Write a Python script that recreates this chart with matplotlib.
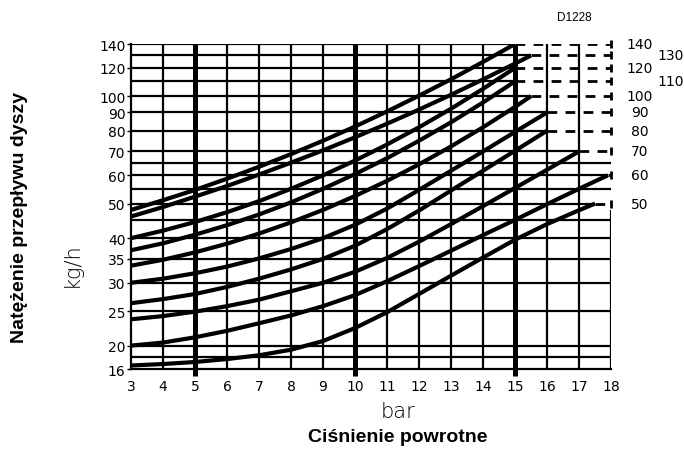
import numpy as np
import matplotlib
matplotlib.use("Agg")
import matplotlib.pyplot as plt

# nozzle sizes (curve labels) and readings: return pressure [bar] -> flow [kg/h]
p_140 = [3, 4, 5, 6, 7, 8, 9, 10, 11, 12, 13, 14, 15]
q_140 = [48, 51.1, 54.6, 58.7, 63.4, 68.8, 75.0, 82.2, 90.6, 100.3, 111.5, 124.7, 140]
p_130 = [3, 4, 5, 6, 7, 8, 9, 10, 11, 12, 13, 14, 15, 15.5]
q_130 = [46, 48.9, 52.3, 56.0, 60.3, 65.1, 70.5, 76.7, 83.7, 91.7, 100.9, 111.4, 123.4, 130]
p_120 = [3, 4, 5, 6, 7, 8, 9, 10, 11, 12, 13, 14, 15]
q_120 = [40, 42.0, 44.4, 47.3, 50.8, 55.0, 60.0, 66.0, 73.2, 81.8, 92.2, 104.8, 120]
p_110 = [3, 4, 5, 6, 7, 8, 9, 10, 11, 12, 13, 14, 15]
q_110 = [37, 38.7, 40.9, 43.5, 46.6, 50.4, 55.0, 60.5, 67.0, 75.0, 84.5, 96.0, 110]
p_100 = [3, 4, 5, 6, 7, 8, 9, 10, 11, 12, 13, 14, 15, 15.5]
q_100 = [33.5, 34.8, 36.5, 38.6, 41.2, 44.3, 48.0, 52.5, 57.9, 64.4, 72.3, 81.8, 93.3, 100]
p_90 = [3, 4, 5, 6, 7, 8, 9, 10, 11, 12, 13, 14, 15, 16]
q_90 = [30, 30.8, 31.9, 33.3, 35.1, 37.3, 40.0, 43.6, 48.4, 54.6, 61.8, 70.0, 79.4, 90]
p_80 = [3, 4, 5, 6, 7, 8, 9, 10, 11, 12, 13, 14, 15, 16]
q_80 = [26.3, 27.0, 27.9, 29.2, 30.8, 32.7, 35.0, 38.1, 42.4, 47.8, 54.4, 61.8, 70.3, 80]
p_70 = [3, 4, 5, 6, 7, 8, 9, 10, 11, 12, 13, 14, 15, 16, 17]
q_70 = [23.7, 24.2, 24.9, 25.8, 26.9, 28.4, 30.0, 32.2, 35.2, 39.1, 43.8, 49.2, 55.3, 62.2, 70]
p_60 = [3, 4, 5, 6, 7, 8, 9, 10, 11, 12, 13, 14, 15, 16, 17, 17.9]
q_60 = [20, 20.4, 21.1, 22.0, 23.1, 24.3, 25.8, 27.7, 30.3, 33.4, 36.9, 40.8, 45.0, 49.8, 55.0, 60]
p_50 = [3, 4, 5, 6, 7, 8, 9, 10, 11, 12, 13, 14, 15, 16, 17, 17.5]
q_50 = [16.6, 16.85, 17.2, 17.7, 18.35, 19.3, 20.6, 22.4, 24.8, 27.9, 31.4, 35.3, 39.6, 43.8, 47.9, 50]

curves = [(140, p_140, q_140), (130, p_130, q_130), (120, p_120, q_120),
          (110, p_110, q_110), (100, p_100, q_100), (90, p_90, q_90),
          (80, p_80, q_80), (70, p_70, q_70), (60, p_60, q_60), (50, p_50, q_50)]

x_ticks = list(range(3, 19))
y_ticks = [16, 20, 25, 30, 35, 40, 50, 60, 70, 80, 90, 100, 120, 140]
grid_y = [18, 20, 25, 30, 35, 40, 45, 50, 55, 60, 65, 70, 80, 90, 100, 110, 120, 130, 140]
bold_x = [5, 10, 15]

# log axis, squeezed below 20 like the original sheet
LOW = 20.0
SQ = np.log(20 / 17.2)


def fwd(y):
    y = np.asarray(y, float)
    return np.where(y >= LOW, np.log(np.maximum(y, 1e-6)), np.log(LOW) - (LOW - y) / 4.0 * SQ)


def inv(t):
    t = np.asarray(t, float)
    return np.where(t >= np.log(LOW), np.exp(np.minimum(t, 50)), LOW - (np.log(LOW) - t) / SQ * 4.0)


fig = plt.figure(figsize=(6.84, 4.52), dpi=100)
ax = fig.add_axes([131 / 684, 1 - 370 / 452, 480 / 684, 325 / 452])
ax.set_yscale('function', functions=(fwd, inv))
ax.set_xlim(3, 18)
ax.set_ylim(16, 140)

glw = 1.6
ends = {lab: p[-1] for lab, p, q in curves}

# horizontal grid
for y in grid_y:
    xe = ends.get(y, 18)
    ax.plot([3, xe], [y, y], color='k', lw=glw, zorder=1, solid_capstyle='butt')

# vertical grid
for x in range(4, 18):
    if x in bold_x:
        ax.vlines(x, -0.02, 1, transform=ax.get_xaxis_transform(), color='k', lw=3.6,
                  clip_on=False, zorder=1)
    else:
        ax.vlines(x, 16, 140, color='k', lw=glw, zorder=1)
ax.vlines(18, 16, 48, color='k', lw=glw, zorder=1)

# curves, dashed leaders and right-hand labels
for lab, p, q in curves:
    ax.plot(p, q, color='k', lw=3.0, zorder=3, solid_capstyle='butt', solid_joinstyle='round')
    ax.plot([p[-1], 18], [q[-1], q[-1]], color='k', lw=2.0, ls=(0, (3.5, 3)), zorder=2,
            dash_capstyle='butt')
    ax.plot([18], [lab], marker='|', color='k', ms=6, mew=2, zorder=2, clip_on=False)
    xt = 19.85 if lab in (130, 110) else 18.9
    ax.text(xt, lab, str(lab), ha='center', va='center', fontsize=10, clip_on=False)

for s in ['top', 'right']:
    ax.spines[s].set_visible(False)
for s in ['left', 'bottom']:
    ax.spines[s].set_linewidth(glw)

ax.set_xticks(x_ticks)
ax.set_xticklabels([str(v) for v in x_ticks], fontsize=10)
ax.set_yticks(y_ticks)
ax.set_yticklabels([str(v) for v in y_ticks], fontsize=10)
ax.yaxis.set_minor_locator(matplotlib.ticker.NullLocator())
ax.tick_params(axis='x', length=0, pad=7)
ax.tick_params(axis='y', length=3, width=1, pad=1)

fig.text(0.582, 0.088, 'bar', ha='center', va='center', fontsize=15, fontweight='light')
fig.text(0.582, 0.031, 'Ciśnienie powrotne', ha='center', va='center', fontsize=14,
         fontweight='bold', family='Liberation Sans')
fig.text(0.105, 0.414, 'kg/h', ha='center', va='center', fontsize=15, rotation=90,
         fontweight='light')
fig.text(0.029, 0.518, 'Natężenie przepływu dyszy', ha='center', va='center', fontsize=14,
         fontweight='bold', rotation=90, family='Liberation Sans')
fig.text(0.839, 0.960, 'D1228', ha='center', va='center', fontsize=8.5, family='Liberation Sans')

fig.savefig('out.png', dpi=100)
